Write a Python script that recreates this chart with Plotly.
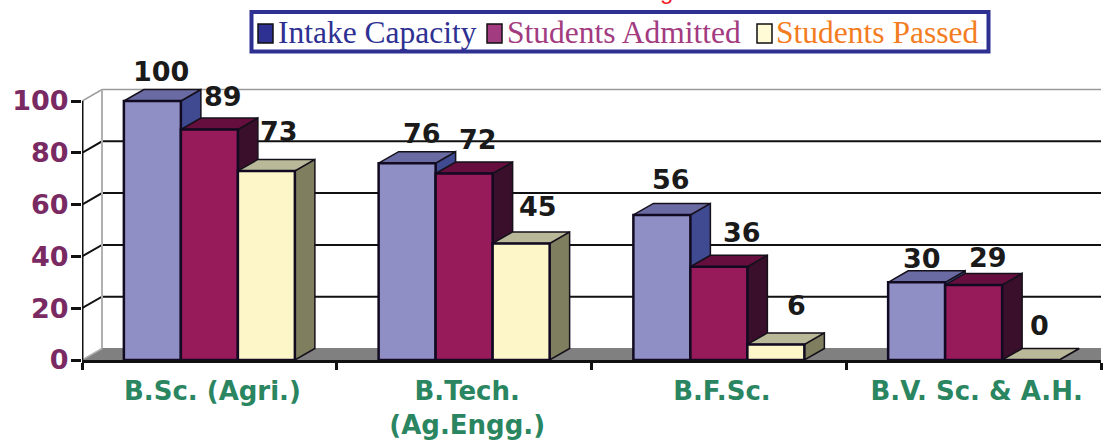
import plotly.graph_objects as go

categories = ["B.Sc. (Agri.)", "B.Tech.<br>(Ag.Engg.)", "B.F.Sc.", "B.V. Sc. & A.H."]
intake_capacity = [100, 76, 56, 30]
students_admitted = [89, 72, 36, 29]
students_passed = [73, 45, 6, 0]
y_ticks = [0, 20, 40, 60, 80, 100]

series_names = ["Intake Capacity", "Students Admitted", "Students Passed"]
series_values = [intake_capacity, students_admitted, students_passed]
front_colors = ["#8f8fc6", "#971b5a", "#fcf6c8"]
top_colors = ["#6b6ba3", "#660f3f", "#b9b899"]
side_colors = ["#3f4a90", "#3a0f2b", "#7f7f60"]
legend_swatch = ["#2e3192", "#a23b80", "#fffbd6"]
legend_text = ["#2e3192", "#a23b80", "#f47c20"]

# pixel offsets of each value label from its bar's top centre (x, y up)
label_dx = [[9, 15, 9, 5], [14, 14, 23, 14], [13, 17, 21, 9]]
label_dy = [[30, 30, 35, 24], [33, 34, 34, 27], [39, 37, 39, 35]]

W, H = 1114, 440
L, R, T, B = 82, 13, 60, 80
PW, PH = W - L - R, H - T - B
YMAX = PH / 2.59
BAR_W = 57 / (PW / 4)
DX = 20 / (PW / 4)
DY = 11.5 / 2.59


def px(v):
    return (v - L) / PW


def py(v):
    return (H - B - v) / PH


fig = go.Figure()
common = dict(mode="lines", hoverinfo="skip", showlegend=False, cliponaxis=False)

# floor
fig.add_trace(go.Scatter(x=[0, DX, 4 + DX, 4, 0], y=[0, DY, DY, 0, 0], fill="toself",
                         fillcolor="#808080", line=dict(color="#808080", width=1), **common))
# back wall grid and left wall
for t in y_ticks[1:]:
    color = "#9a9a9a" if t == 100 else "#111111"
    fig.add_trace(go.Scatter(x=[0, DX, 4 + 13 * 4 / PW], y=[t, t + DY, t + DY],
                             line=dict(color=color, width=2 if t < 100 else 1.5), **common))
fig.add_trace(go.Scatter(x=[DX, DX], y=[DY, 100 + DY], line=dict(color="#b0b0b0", width=2), **common))
fig.add_trace(go.Scatter(x=[0, DX], y=[0, DY], line=dict(color="#b0b0b0", width=1.5), **common))
# front vertical axis, ending at the top tick
fig.add_trace(go.Scatter(x=[0, 0], y=[0, 100], line=dict(color="#111111", width=3), **common))

# depth faces
offsets = [-BAR_W, 0, BAR_W]
for s, vals in enumerate(series_values):
    tx, ty, sx, sy = [], [], [], []
    for i, v in enumerate(vals):
        x0 = i + 0.5 + offsets[s] - BAR_W / 2
        x1 = x0 + BAR_W
        tx += [x0, x0 + DX, x1 + DX, x1, x0, None]
        ty += [v, v + DY, v + DY, v, v, None]
        sx += [x1, x1 + DX, x1 + DX, x1, x1, None]
        sy += [v, v + DY, DY, 0, v, None]
    fig.add_trace(go.Scatter(x=sx, y=sy, fill="toself", fillcolor=side_colors[s],
                             line=dict(color="#15101a", width=1.5), **common))
    fig.add_trace(go.Scatter(x=tx, y=ty, fill="toself", fillcolor=top_colors[s],
                             line=dict(color="#15101a", width=1.5), **common))

# front faces
for s, vals in enumerate(series_values):
    fig.add_trace(go.Bar(x=[i + 0.5 + offsets[s] for i in range(4)], y=vals, width=BAR_W,
                         name=series_names[s], xaxis="x2", yaxis="y2",
                         marker=dict(color=front_colors[s], line=dict(color="#120a20", width=2.5)),
                         showlegend=False, cliponaxis=False))

annotations = []
label_font = dict(family="DejaVu Sans", size=27, color="#1a1a1a", weight="bold")
for s, vals in enumerate(series_values):
    for i, v in enumerate(vals):
        annotations.append(dict(x=i + 0.5 + offsets[s], y=v, xref="x2", yref="y2", text=str(v),
                                showarrow=False, xanchor="center", yanchor="middle",
                                xshift=label_dx[s][i], yshift=label_dy[s][i], font=label_font))

# legend (drawn by hand: its swatches differ from the bar colours)
shapes = [dict(type="rect", xref="paper", yref="paper", x0=px(251.5), x1=px(988.5), y0=py(12), y1=py(51.5),
               line=dict(color="#2e3192", width=4), fillcolor="white")]
sw_x = [258, 487, 757]
tx_x = [276, 505, 774]
for s in range(3):
    shapes.append(dict(type="rect", xref="paper", yref="paper", x0=px(sw_x[s]), x1=px(sw_x[s] + 15),
                       y0=py(24), y1=py(43), fillcolor=legend_swatch[s], line=dict(color="#111111", width=1.5)))
    annotations.append(dict(x=px(tx_x[s]), y=py(33), xref="paper", yref="paper", text=series_names[s],
                            showarrow=False, xanchor="left", yanchor="middle",
                            font=dict(family="Liberation Serif", size=31.5, color=legend_text[s])))

# clipped title descender at the top edge of the picture
annotations.append(dict(x=px(666), y=py(6), xref="paper", yref="paper", text="g", showarrow=False,
                        xanchor="center", yanchor="bottom",
                        font=dict(family="Liberation Sans", size=24, color="#ee1c25")))

fig.update_layout(
    width=W, height=H, margin=dict(l=L, r=R, t=T, b=B, autoexpand=False), paper_bgcolor="white",
    plot_bgcolor="white", barmode="overlay", showlegend=False, shapes=shapes, annotations=annotations,
    xaxis=dict(range=[0, 4], tickvals=[0, 1, 2, 3, 4], ticktext=["", "", "", "", ""], ticks="outside",
               ticklen=7, tickwidth=3, tickcolor="#111111", showline=True, linecolor="#111111", linewidth=3,
               showgrid=False, zeroline=False, automargin=False),
    yaxis=dict(range=[0, YMAX], tickvals=y_ticks, ticks="outside", ticklen=10, tickwidth=3,
               tickcolor="#111111", showline=False, showgrid=False,
               zeroline=False, ticklabelstandoff=-3, automargin=False,
               tickfont=dict(family="DejaVu Sans", size=27, color="#7a2a62", weight="bold")),
    xaxis2=dict(overlaying="x", range=[0, 4], side="bottom", tickvals=[i + 0.512 for i in range(4)],
                ticktext=categories, ticks="", showgrid=False, zeroline=False, showline=False,
                ticklabelstandoff=13, automargin=False,
                tickfont=dict(family="DejaVu Sans", size=26, color="#2a8561", weight="bold")),
    yaxis2=dict(overlaying="y", range=[0, YMAX], visible=False),
)

fig.write_html("out.html", config={"displayModeBar": False}, post_script="document.body.style.margin='0';")
